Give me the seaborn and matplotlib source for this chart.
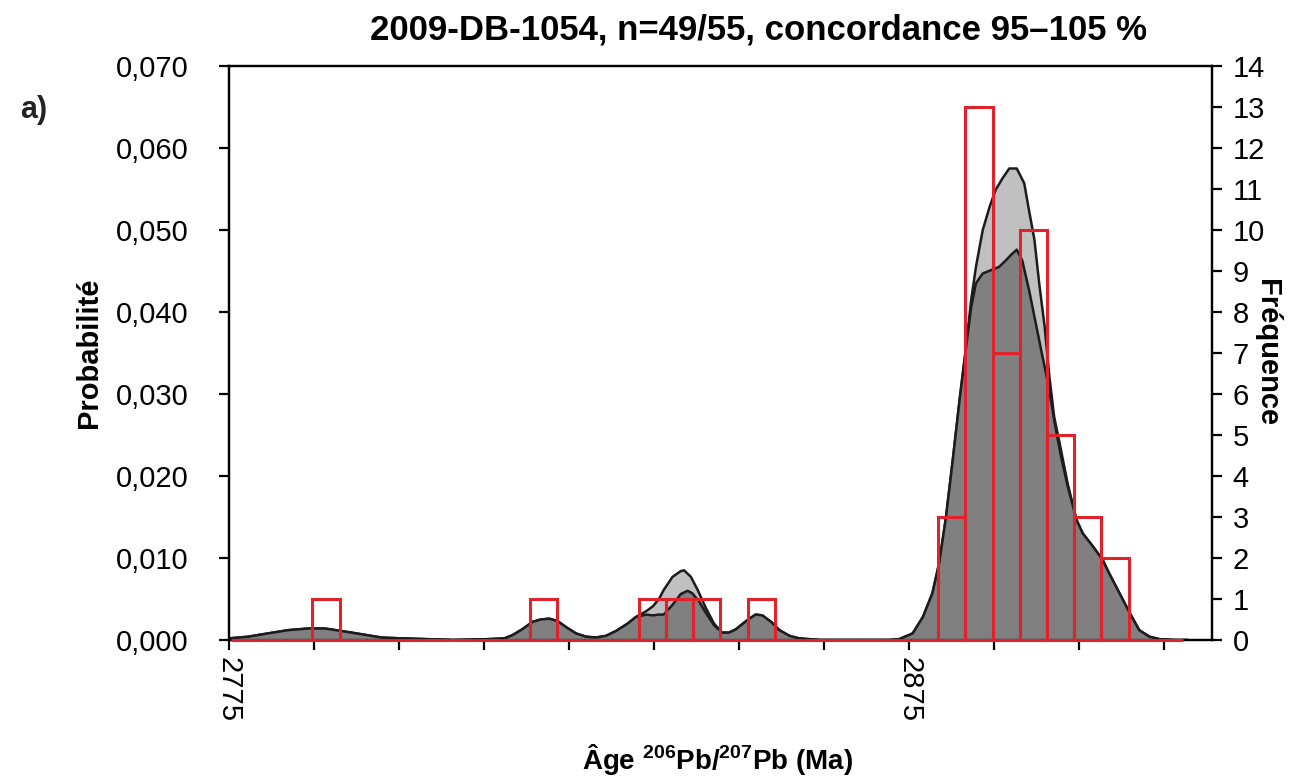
import numpy as np
import matplotlib
matplotlib.use("Agg")
import matplotlib.pyplot as plt
import seaborn as sns
from matplotlib import font_manager

# ---------------- data ----------------
# Probability density curve, concordant analyses (dark grey)
dark_age = [2775, 2777.8, 2780.7, 2783.7, 2786.6, 2789.1, 2791.5, 2794.5, 2797.4, 2800.3,
            2804.3, 2808, 2813, 2815.5, 2816.7, 2818.1, 2819.6, 2820.8, 2822.1, 2823.3,
            2824.5, 2826.0, 2827.5, 2828.9, 2830.4, 2831.9, 2833.6, 2834.8, 2836.3, 2837.3,
            2838.2, 2838.9, 2840.2, 2841.4, 2842.4, 2843.1, 2844.1, 2845.1, 2846.3, 2847.5,
            2848.5, 2849.5, 2851.0, 2852.4, 2853.4, 2854.7, 2855.9, 2857.4, 2858.8, 2860.3,
            2862, 2866, 2870, 2872, 2873.5, 2875.5, 2877.0, 2878.4, 2879.4, 2880.4,
            2881.4, 2882.4, 2883.3, 2884.1, 2884.8, 2885.8, 2887.3, 2888.2, 2889.2, 2890.0,
            2890.8, 2891.6, 2892.6, 2893.6, 2894.6, 2895.6, 2896.3, 2897.3, 2898.3, 2899.6,
            2900.5, 2902.0, 2903.4, 2904.4, 2905.9, 2907.4, 2908.8, 2910.3, 2911.8, 2914, 2916]
dark_prob = [0.0002, 0.0004, 0.0008, 0.0012, 0.0014, 0.0014, 0.0011, 0.0007, 0.0003, 0.0002,
             0.0001, 0.0000, 0.0001, 0.0002, 0.0006, 0.0013, 0.0022, 0.0025, 0.0026, 0.0023,
             0.0016, 0.0008, 0.0004, 0.0003, 0.0005, 0.0011, 0.0020, 0.0028, 0.0031, 0.0030,
             0.0031, 0.0031, 0.0043, 0.0056, 0.0060, 0.0057, 0.0047, 0.0033, 0.0018, 0.0009,
             0.0009, 0.0013, 0.0023, 0.0031, 0.0030, 0.0022, 0.0012, 0.0005, 0.0002, 0.0001,
             0.0000, 0.0000, 0.0000, 0.0000, 0.0001, 0.0008, 0.0028, 0.0057, 0.0094, 0.0150,
             0.0220, 0.0293, 0.0354, 0.0406, 0.0435, 0.0447, 0.0452, 0.0455, 0.0463, 0.0470,
             0.0476, 0.0463, 0.0427, 0.0386, 0.0345, 0.0305, 0.0268, 0.0224, 0.0187, 0.0146,
             0.0130, 0.0114, 0.0098, 0.0081, 0.0057, 0.0033, 0.0012, 0.0004, 0.0001, 0.0000, 0.0000]

# Probability density curve, all analyses (light grey)
light_age = [2775, 2777.8, 2780.7, 2783.7, 2786.6, 2789.1, 2791.5, 2794.5, 2797.4, 2800.3,
             2804.3, 2808, 2813, 2815.5, 2816.7, 2818.1, 2819.6, 2820.8, 2822.1, 2823.3,
             2824.5, 2826.0, 2827.5, 2828.9, 2830.4, 2831.9, 2833.6, 2834.8, 2836.3, 2837.3,
             2838.2, 2838.9, 2840.2, 2841.4, 2841.9, 2842.9, 2843.9, 2845.1, 2846.3, 2847.5,
             2848.5, 2849.5, 2851.0, 2852.4, 2853.4, 2854.7, 2855.9, 2857.4, 2858.8, 2860.3,
             2862, 2866, 2870, 2872, 2873.5, 2875.5, 2877.0, 2878.4, 2879.4, 2880.4,
             2881.4, 2882.4, 2883.3, 2884.1, 2884.8, 2885.8, 2886.8, 2887.7, 2888.7, 2889.7,
             2890.8, 2891.9, 2892.6, 2893.4, 2894.1, 2894.9, 2895.6, 2896.3, 2897.1, 2898.3,
             2899.6, 2900.5, 2902.0, 2903.4, 2904.4, 2905.9, 2907.4, 2908.8, 2910.3, 2911.8,
             2914, 2916]
light_prob = [0.0002, 0.0004, 0.0008, 0.0012, 0.0014, 0.0014, 0.0011, 0.0007, 0.0003, 0.0002,
              0.0001, 0.0000, 0.0001, 0.0002, 0.0006, 0.0013, 0.0022, 0.0025, 0.0026, 0.0023,
              0.0016, 0.0008, 0.0004, 0.0003, 0.0005, 0.0011, 0.0020, 0.0028, 0.0035, 0.0041,
              0.0050, 0.0061, 0.0077, 0.0084, 0.0085, 0.0077, 0.0061, 0.0039, 0.0020, 0.0009,
              0.0009, 0.0013, 0.0023, 0.0031, 0.0030, 0.0022, 0.0012, 0.0005, 0.0002, 0.0001,
              0.0000, 0.0000, 0.0000, 0.0000, 0.0001, 0.0008, 0.0028, 0.0057, 0.0094, 0.0150,
              0.0220, 0.0293, 0.0354, 0.0415, 0.0455, 0.0500, 0.0528, 0.0549, 0.0563, 0.0575,
              0.0575, 0.0557, 0.0524, 0.0488, 0.0435, 0.0382, 0.0321, 0.0272, 0.0240, 0.0190,
              0.0146, 0.0130, 0.0114, 0.0098, 0.0081, 0.0057, 0.0033, 0.0012, 0.0004, 0.0001,
              0.0000, 0.0000]

# Histogram (4 Ma bins)
bin_edges = list(np.arange(2775.25, 2915.3, 4.0))
bin_counts = [0, 0, 0, 1, 0, 0, 0, 0, 0, 0,
              0, 1, 0, 0, 0, 1, 1, 1, 0, 1,
              0, 0, 0, 0, 0, 0, 3, 13, 7, 10,
              5, 3, 2, 0, 0]

prob_ticks = [0.000, 0.010, 0.020, 0.030, 0.040, 0.050, 0.060, 0.070]
prob_tick_labels = ["0,000", "0,010", "0,020", "0,030", "0,040", "0,050", "0,060", "0,070"]
freq_ticks = list(range(0, 15))
age_ticks = [2775 + 12.5 * i for i in range(12)]
age_tick_labels = ["2775", "", "", "", "", "", "", "", "2875", "", "", ""]

title = "2009-DB-1054, n=49/55, concordance 95–105 %"

# ---------------- style ----------------
sns.set_theme(style="ticks")
names = {f.name for f in font_manager.fontManager.ttflist}
base = "Liberation Sans" if "Liberation Sans" in names else "DejaVu Sans"
narrow = "Liberation Sans Narrow" if "Liberation Sans Narrow" in names else base
plt.rcParams["font.family"] = [base, "DejaVu Sans"]
plt.rcParams["mathtext.fontset"] = "custom"
plt.rcParams["mathtext.rm"] = narrow
plt.rcParams["mathtext.bf"] = narrow + ":bold"

RED = "#e0222b"
LINE = "#1c1c1c"

fig = plt.figure(figsize=(12.93, 7.78), dpi=100)
fig.patch.set_facecolor("white")
ax = fig.add_axes([229 / 1293, 1 - 640 / 778, (1212 - 229) / 1293, (640 - 66) / 778])
ax.set_facecolor("white")

centers = [(bin_edges[i] + bin_edges[i + 1]) / 2 for i in range(len(bin_counts))]

ax.fill_between(light_age, light_prob, color="#c0c0c0", lw=0, zorder=1)
sns.lineplot(x=light_age, y=light_prob, ax=ax, color=LINE, lw=1.8, zorder=2)
ax.fill_between(dark_age, dark_prob, color="#808080", lw=0, zorder=3)
sns.lineplot(x=dark_age, y=dark_prob, ax=ax, color=LINE, lw=1.8, zorder=4)

ax2 = ax.twinx()
sns.histplot(x=centers, weights=bin_counts, bins=bin_edges, fill=False, element="bars",
             color=RED, linewidth=2.2, ax=ax2)
for p in ax2.patches:
    p.set_edgecolor(RED)
    p.set_zorder(3)
    p.set_clip_on(False)

ax.set_xlim(2775, 2919.5)
ax.set_ylim(0, 0.070)
ax2.set_ylim(0, 14)

ax.set_yticks(prob_ticks)
ax.set_yticklabels(prob_tick_labels)
ax.set_xticks(age_ticks)
ax.set_xticklabels(age_tick_labels, rotation=-90)
ax2.set_yticks(freq_ticks)
ax2.set_yticklabels([str(v) for v in freq_ticks])

for a in (ax, ax2):
    for s in a.spines.values():
        s.set_visible(True)
        s.set_color("black")
        s.set_linewidth(1.6)
ax.tick_params(axis="both", direction="out", length=7, width=1.6, color="black",
               labelsize=21, labelcolor="black")
ax.tick_params(axis="y", pad=22)
ax.tick_params(axis="x", pad=5)
ax2.tick_params(axis="y", direction="out", length=7, width=1.6, color="black",
                labelsize=21, labelcolor="black", pad=8)

ax.set_ylabel("Probabilité", fontsize=21, fontweight="bold", color="black")
ax.yaxis.set_label_coords(-0.128, 0.5)
ax2.set_ylabel("Fréquence", fontsize=21, fontweight="bold", color="black", rotation=-90,
               va="center")
ax2.yaxis.set_label_coords(1.056, 0.5)
ax.set_xlabel(r"Âge $\mathbf{^{206}}$Pb/$\mathbf{^{207}}$Pb (Ma)", fontsize=20,
              fontweight="bold", family=[narrow, "DejaVu Sans"], color="black")
ax.xaxis.set_label_coords(0.497, -0.178)
ax2.set_xlabel("")

fig.text(759 / 1293, 1 - 30 / 778, title, fontsize=25, fontweight="bold",
         ha="center", va="center", color="black")
fig.text(34 / 1293, 1 - 110 / 778, "a)", fontsize=22, fontweight="bold",
         ha="center", va="center", color="#222222")

fig.savefig("out.png", dpi=100)
